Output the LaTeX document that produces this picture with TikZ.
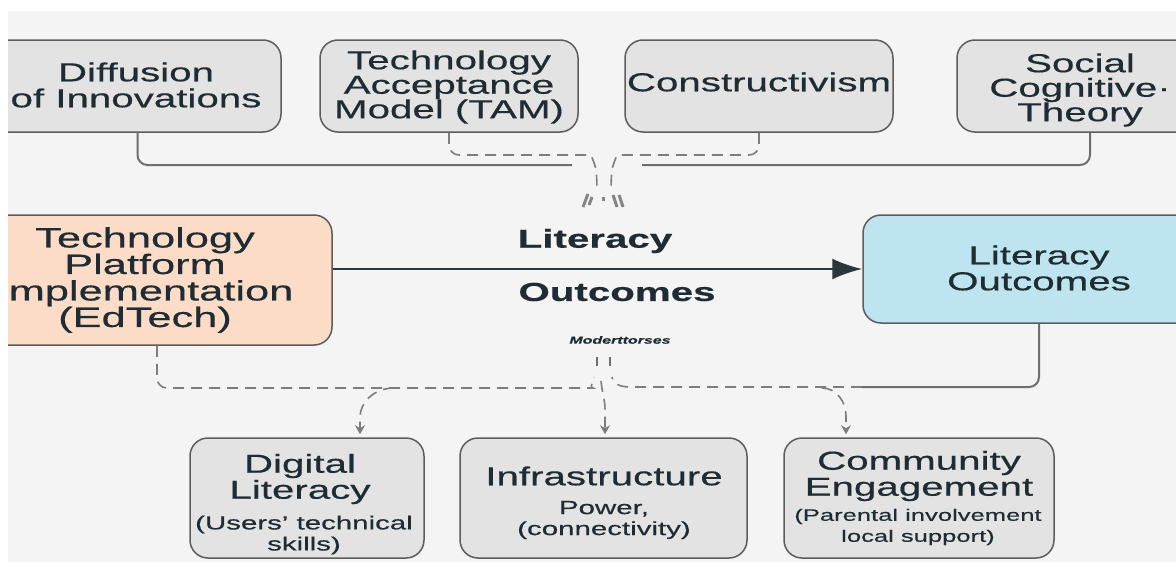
\documentclass[tikz,border=0pt]{standalone}
\usepackage{fontspec}
\setmainfont{Liberation Sans}[FakeStretch=1.55, FakeBold=0.45]
\usepackage{tikz}
\usetikzlibrary{arrows.meta}

\definecolor{panel}{HTML}{F4F4F4}
\definecolor{theorygray}{HTML}{E3E3E3}
\definecolor{boxline}{HTML}{5C5C5C}
\definecolor{peach}{HTML}{FCDCC7}
\definecolor{skyblue}{HTML}{BEE4EF}
\definecolor{ink}{HTML}{1F2C33}
\definecolor{linkgray}{HTML}{6E6E6E}

\newcommand{\boxfont}{\fontsize{26}{24.5}\selectfont}
\newcommand{\parenfont}{\fontsize{19}{21}\selectfont}

\tikzset{
every picture/.style={line width=1.5pt, >=stealth},
%%%%%%%%%%  Node styles
theory_box/.style={draw=boxline, fill=theorygray, rounded corners=18pt,
                   minimum height=92pt, inner sep=0pt},
factor_box/.style={draw=boxline, fill=theorygray, rounded corners=18pt,
                   minimum height=120pt, inner sep=0pt},
platform_box/.style={draw=boxline, fill=peach, rounded corners=18pt,
                   minimum height=130pt, inner sep=0pt},
outcome_box/.style={draw=boxline, fill=skyblue, rounded corners=18pt,
                   minimum height=108pt, inner sep=0pt},
box_text/.style={align=center, text=ink, font=\boxfont, inner sep=0pt},
note_text/.style={align=center, text=ink, font=\parenfont, inner sep=0pt},
flow_text/.style={text=ink, font=\fontsize{26}{30}\selectfont\bfseries, inner sep=0pt},
%%%% different line styles:
solid_link/.style={draw=linkgray, line width=2pt},
dashed_link/.style={draw=linkgray!90, line width=1.6pt, dash pattern=on 11pt off 7pt},
main_arrow/.style={draw=ink!95, line width=2.5pt, -{Latex[length=30pt,width=21pt]}},
drop_arrow/.style={dashed_link, shorten >=3pt, -{Stealth[length=9pt,width=10pt,fill=linkgray]}},
tick/.style={draw=linkgray, line width=1.6pt},
glyph/.style={draw=linkgray!85, line width=3pt}
}

\begin{document}
\begin{tikzpicture}[x=1pt,y=-1pt]
\useasboundingbox (0,0) rectangle (1176,562);
\fill[white] (0,0) rectangle (1176,562);
\begin{scope}
\clip (8,11) rectangle (1176,562);
\fill[panel] (8,11) rectangle (1176,562);

%% theories along the top
\node[theory_box, minimum width=291pt] (diffusion) at (135.5,86) {};
\node[box_text, font=\fontsize{26}{26}\selectfont] (diffusion_t) at (136,85) {Diffusion\\of Innovations};
\node[theory_box, minimum width=258pt] (tam) at (449,86) {};
\node[box_text] (tam_t) at (449,87) {Technology\\Acceptance\\Model (TAM)};
\node[theory_box, minimum width=268pt] (constr) at (759,86) {};
\node[box_text] (constr_t) at (759,82) {Constructivism};
\node[theory_box, minimum width=266pt] (social) at (1090,86) {};
\node[box_text] (social_t) at (1080,90) {Social\\Cognitive·\\Theory};

%% where the four theory links meet
\coordinate (join_l) at (572,165);
\coordinate (join_r) at (642,165);
\draw[solid_link, rounded corners=10pt] ([xshift=2pt]diffusion.south) |- (join_l);
\draw[solid_link, rounded corners=10pt] (social.south) |- (join_r);
\draw[dashed_link, rounded corners=10pt] (tam.south) |- (580,155)
   to[out=0,in=95] (597,180) -- (597,188);
\draw[dashed_link, rounded corners=10pt] (constr.south) |- (628,155)
   to[out=180,in=85] (611,180) -- (611,188);
\draw[glyph] (583,207) -- (588,194);
\draw[glyph] (589,205) -- (592,197);
\draw[glyph] (603,197) -- (603,201);
\draw[glyph] (613,195) -- (617,207);
\draw[glyph] (619,195) -- (623,207);

%% main relation
\node[platform_box, minimum width=362pt] (platform) at (151,280) {};
\node[box_text, font=\fontsize{28}{26.5}\selectfont] (platform_t) at (145,280)
   {Technology\\Platform\\Implementation\\(EdTech)};
\node[outcome_box, minimum width=357pt] (outcomes) at (1041.5,269) {};
\node[box_text, font=\fontsize{26}{26}\selectfont] (outcomes_t) at (1039,268) {Literacy\\Outcomes};
\draw[main_arrow] (platform.east |- outcomes.west) -- (outcomes.west);
\node[flow_text] (flow_top) at (595,241) {Literacy};
\node[flow_text] (flow_bot) at (617,292) {Outcomes};
\node[text=ink, font=\fontsize{10.3}{12}\selectfont\bfseries\itshape] (moderators) at (620,340) {Moderttorses};

%% moderators
\node[factor_box, minimum width=234pt] (digital) at (307,498) {};
\node[box_text, font=\fontsize{26}{26}\selectfont] (digital_t) at (300,479) {Digital\\Literacy};
\node[note_text] (digital_n) at (304,535) {(Users' technical\\skills)};
\node[factor_box, minimum width=287pt] (infra) at (603.5,498) {};
\node[box_text] (infra_t) at (604,476) {Infrastructure};
\node[note_text] (infra_n) at (604,520) {Power,\\(connectivity)};
\node[factor_box, minimum width=270pt] (community) at (919,498) {};
\node[box_text, font=\fontsize{26}{26}\selectfont] (community_t) at (919,476) {Community\\Engagement};
\node[note_text, font=\fontsize{16.5}{21}\selectfont] (community_n) at (918,527) {(Parental involvement\\local support)};

%% moderator links
\coordinate (low_join) at (862,387);
\coordinate (drop_a) at (360,418);
\coordinate (drop_b) at (605,410);
\coordinate (drop_c) at (846,416);
\draw[dashed_link, rounded corners=10pt] ([xshift=6pt]platform.south) |- (583,388)
   to[out=0,in=-100] (594,377);
\draw[solid_link, rounded corners=10pt] ([xshift=-2.5pt]outcomes.south) |- (low_join);
\draw[dashed_link] (low_join) -- (630,387) to[out=180,in=-80] (612,377);
\draw[tick] (597,357) -- (597,366);
\draw[tick] (610,357) -- (610,366);
\draw[drop_arrow] (394,388) to[out=180,in=90] (drop_a) -- (digital.north -| drop_a);
\draw[drop_arrow] (601,381) to[out=-85,in=90] (drop_b) -- (infra.north -| drop_b);
\draw[drop_arrow] (822,388) to[out=0,in=90] (drop_c) -- (community.north -| drop_c);
\end{scope}
\end{tikzpicture}
\end{document}
